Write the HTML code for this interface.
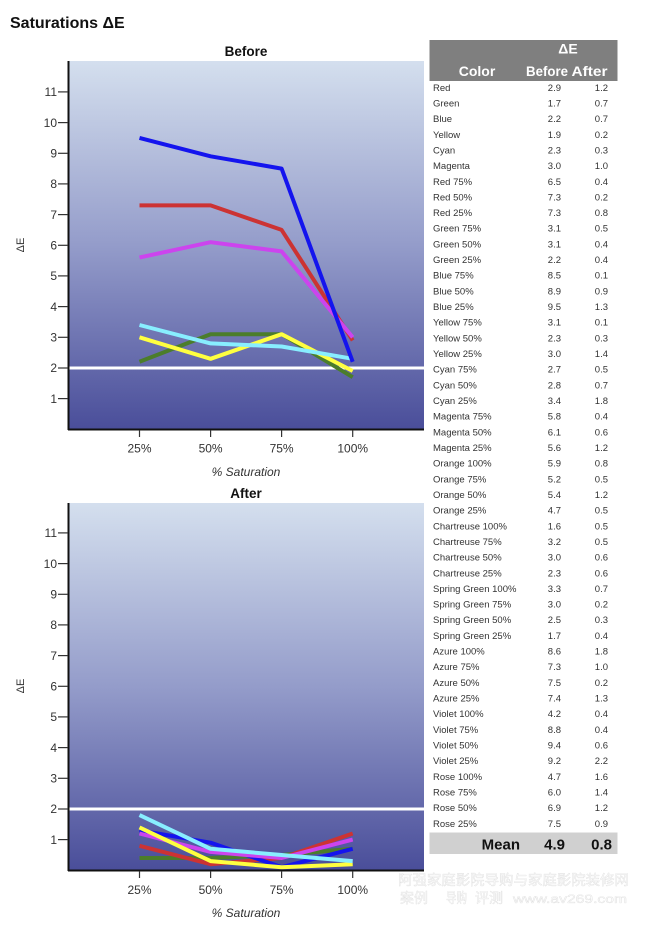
<!DOCTYPE html>
<html>
<head>
<meta charset="utf-8">
<style>
html,body{margin:0;padding:0;background:#fff;}
svg{display:block;}
text{font-family:"Liberation Sans","Noto Sans CJK SC",sans-serif;}
</style>
</head>
<body>
<svg width="648" height="927" viewBox="0 0 648 927" xmlns="http://www.w3.org/2000/svg">
<defs>
<linearGradient id="bg" x1="0" y1="0" x2="0" y2="1">
<stop offset="0" stop-color="#d4dfee"/>
<stop offset="0.5" stop-color="#949cca"/>
<stop offset="1" stop-color="#4a4e9a"/>
</linearGradient>
<clipPath id="c1"><rect x="69" y="61" width="355" height="368"/></clipPath>
<clipPath id="c2"><rect x="69" y="503" width="355" height="367"/></clipPath>
</defs>

<text x="10" y="28" font-size="16" font-weight="bold" fill="#111">Saturations ΔE</text>

<!-- BEFORE CHART -->
<text x="246" y="56" font-size="13.5" font-weight="bold" text-anchor="middle" fill="#111">Before</text>
<rect x="68" y="61" width="356" height="368" fill="url(#bg)"/>
<line x1="69" y1="368" x2="424" y2="368" stroke="#fff" stroke-width="3"/>
<g clip-path="url(#c1)" fill="none" stroke-width="4" stroke-linejoin="round">
<polyline stroke="#4b7d2b" points="139.5,361.8 210.6,334.2 281.6,334.2 352.7,377.2"/>
<polyline stroke="#ffff40" points="139.5,337.3 210.6,358.8 281.6,334.2 352.7,371.0"/>
<polyline stroke="#88eeff" points="139.5,325.0 210.6,343.4 281.6,346.5 352.7,358.8"/>
<polyline stroke="#cc3333" points="139.5,205.4 210.6,205.4 281.6,229.9 352.7,340.4"/>
<polyline stroke="#cc44ee" points="139.5,257.5 210.6,242.2 281.6,251.4 352.7,337.3"/>
<polyline stroke="#1414ee" points="139.5,137.9 210.6,156.3 281.6,168.6 352.7,361.8"/>
</g>
<line x1="68.5" y1="61" x2="68.5" y2="430" stroke="#111" stroke-width="2"/>
<line x1="68" y1="429.5" x2="424" y2="429.5" stroke="#111" stroke-width="2"/>
<g stroke="#333" stroke-width="1.2">
<line x1="58" y1="398.6" x2="68" y2="398.6"/>
<line x1="58" y1="368.0" x2="68" y2="368.0"/>
<line x1="58" y1="337.3" x2="68" y2="337.3"/>
<line x1="58" y1="306.6" x2="68" y2="306.6"/>
<line x1="58" y1="275.9" x2="68" y2="275.9"/>
<line x1="58" y1="245.3" x2="68" y2="245.3"/>
<line x1="58" y1="214.6" x2="68" y2="214.6"/>
<line x1="58" y1="183.9" x2="68" y2="183.9"/>
<line x1="58" y1="153.3" x2="68" y2="153.3"/>
<line x1="58" y1="122.6" x2="68" y2="122.6"/>
<line x1="58" y1="91.9" x2="68" y2="91.9"/>
<line x1="139.5" y1="430" x2="139.5" y2="437"/>
<line x1="210.6" y1="430" x2="210.6" y2="437"/>
<line x1="281.6" y1="430" x2="281.6" y2="437"/>
<line x1="352.7" y1="430" x2="352.7" y2="437"/>
</g>
<g font-size="12" fill="#333" text-anchor="end">
<text x="57" y="402.8">1</text>
<text x="57" y="372.2">2</text>
<text x="57" y="341.5">3</text>
<text x="57" y="310.8">4</text>
<text x="57" y="280.1">5</text>
<text x="57" y="249.5">6</text>
<text x="57" y="218.8">7</text>
<text x="57" y="188.1">8</text>
<text x="57" y="157.5">9</text>
<text x="57" y="126.8">10</text>
<text x="57" y="96.1">11</text>
</g>
<g font-size="12" fill="#333" text-anchor="middle">
<text x="139.5" y="452.5">25%</text>
<text x="210.6" y="452.5">50%</text>
<text x="281.6" y="452.5">75%</text>
<text x="352.7" y="452.5">100%</text>
<text x="246" y="476" font-style="italic">% Saturation</text>
</g>
<text transform="translate(24,245) rotate(-90)" font-size="11" fill="#333" text-anchor="middle">ΔE</text>

<!-- AFTER CHART -->
<text x="246" y="498" font-size="13.5" font-weight="bold" text-anchor="middle" fill="#111">After</text>
<rect x="68" y="503" width="356" height="367" fill="url(#bg)"/>
<line x1="69" y1="809" x2="424" y2="809" stroke="#fff" stroke-width="3"/>
<g clip-path="url(#c2)" fill="none" stroke-width="4" stroke-linejoin="round">
<polyline stroke="#4b7d2b" points="139.5,858.0 210.6,858.0 281.6,855.0 352.7,848.8"/>
<polyline stroke="#cc3333" points="139.5,845.8 210.6,864.2 281.6,858.0 352.7,833.5"/>
<polyline stroke="#1414ee" points="139.5,830.4 210.6,842.7 281.6,867.2 352.7,848.8"/>
<polyline stroke="#cc44ee" points="139.5,833.5 210.6,851.9 281.6,858.0 352.7,839.6"/>
<polyline stroke="#ffff40" points="139.5,827.4 210.6,861.1 281.6,867.2 352.7,864.2"/>
<polyline stroke="#88eeff" points="139.5,815.1 210.6,848.8 281.6,855.0 352.7,861.1"/>
</g>
<line x1="68.5" y1="503" x2="68.5" y2="871" stroke="#111" stroke-width="2"/>
<line x1="68" y1="870.5" x2="424" y2="870.5" stroke="#111" stroke-width="2"/>
<g stroke="#333" stroke-width="1.2">
<line x1="58" y1="839.6" x2="68" y2="839.6"/>
<line x1="58" y1="809.0" x2="68" y2="809.0"/>
<line x1="58" y1="778.3" x2="68" y2="778.3"/>
<line x1="58" y1="747.6" x2="68" y2="747.6"/>
<line x1="58" y1="716.9" x2="68" y2="716.9"/>
<line x1="58" y1="686.3" x2="68" y2="686.3"/>
<line x1="58" y1="655.6" x2="68" y2="655.6"/>
<line x1="58" y1="624.9" x2="68" y2="624.9"/>
<line x1="58" y1="594.3" x2="68" y2="594.3"/>
<line x1="58" y1="563.6" x2="68" y2="563.6"/>
<line x1="58" y1="532.9" x2="68" y2="532.9"/>
<line x1="139.5" y1="871" x2="139.5" y2="878"/>
<line x1="210.6" y1="871" x2="210.6" y2="878"/>
<line x1="281.6" y1="871" x2="281.6" y2="878"/>
<line x1="352.7" y1="871" x2="352.7" y2="878"/>
</g>
<g font-size="12" fill="#333" text-anchor="end">
<text x="57" y="843.8">1</text>
<text x="57" y="813.2">2</text>
<text x="57" y="782.5">3</text>
<text x="57" y="751.8">4</text>
<text x="57" y="721.1">5</text>
<text x="57" y="690.5">6</text>
<text x="57" y="659.8">7</text>
<text x="57" y="629.1">8</text>
<text x="57" y="598.5">9</text>
<text x="57" y="567.8">10</text>
<text x="57" y="537.1">11</text>
</g>
<g font-size="12" fill="#333" text-anchor="middle">
<text x="139.5" y="894">25%</text>
<text x="210.6" y="894">50%</text>
<text x="281.6" y="894">75%</text>
<text x="352.7" y="894">100%</text>
<text x="246" y="917" font-style="italic">% Saturation</text>
</g>
<text transform="translate(24,686) rotate(-90)" font-size="11" fill="#333" text-anchor="middle">ΔE</text>

<!-- TABLE -->
<rect x="429.5" y="40" width="188" height="41" fill="#7f7f7f"/>
<g fill="#fff" font-weight="bold" font-size="14" text-anchor="middle">
<text x="568" y="53.5">ΔE</text>
<text x="477" y="76">Color</text>
<text x="547" y="76" textLength="42" lengthAdjust="spacingAndGlyphs">Before</text>
<text x="589.5" y="76" textLength="36" lengthAdjust="spacingAndGlyphs">After</text>
</g>
<g font-size="9.5" fill="#333">
<text x="433" y="90.8">Red</text>
<text x="433" y="106.5">Green</text>
<text x="433" y="122.1">Blue</text>
<text x="433" y="137.8">Yellow</text>
<text x="433" y="153.4">Cyan</text>
<text x="433" y="169.1">Magenta</text>
<text x="433" y="184.8">Red 75%</text>
<text x="433" y="200.4">Red 50%</text>
<text x="433" y="216.1">Red 25%</text>
<text x="433" y="231.7">Green 75%</text>
<text x="433" y="247.4">Green 50%</text>
<text x="433" y="263.1">Green 25%</text>
<text x="433" y="278.7">Blue 75%</text>
<text x="433" y="294.4">Blue 50%</text>
<text x="433" y="310.0">Blue 25%</text>
<text x="433" y="325.7">Yellow 75%</text>
<text x="433" y="341.4">Yellow 50%</text>
<text x="433" y="357.0">Yellow 25%</text>
<text x="433" y="372.7">Cyan 75%</text>
<text x="433" y="388.3">Cyan 50%</text>
<text x="433" y="404.0">Cyan 25%</text>
<text x="433" y="419.7">Magenta 75%</text>
<text x="433" y="435.3">Magenta 50%</text>
<text x="433" y="451.0">Magenta 25%</text>
<text x="433" y="466.6">Orange 100%</text>
<text x="433" y="482.3">Orange 75%</text>
<text x="433" y="498.0">Orange 50%</text>
<text x="433" y="513.6">Orange 25%</text>
<text x="433" y="529.3">Chartreuse 100%</text>
<text x="433" y="544.9">Chartreuse 75%</text>
<text x="433" y="560.6">Chartreuse 50%</text>
<text x="433" y="576.3">Chartreuse 25%</text>
<text x="433" y="591.9">Spring Green 100%</text>
<text x="433" y="607.6">Spring Green 75%</text>
<text x="433" y="623.2">Spring Green 50%</text>
<text x="433" y="638.9">Spring Green 25%</text>
<text x="433" y="654.6">Azure 100%</text>
<text x="433" y="670.2">Azure 75%</text>
<text x="433" y="685.9">Azure 50%</text>
<text x="433" y="701.5">Azure 25%</text>
<text x="433" y="717.2">Violet 100%</text>
<text x="433" y="732.9">Violet 75%</text>
<text x="433" y="748.5">Violet 50%</text>
<text x="433" y="764.2">Violet 25%</text>
<text x="433" y="779.8">Rose 100%</text>
<text x="433" y="795.5">Rose 75%</text>
<text x="433" y="811.2">Rose 50%</text>
<text x="433" y="826.8">Rose 25%</text>
</g>
<g font-size="9.5" fill="#333" text-anchor="end">
<text x="561" y="90.8">2.9</text><text x="608" y="90.8">1.2</text>
<text x="561" y="106.5">1.7</text><text x="608" y="106.5">0.7</text>
<text x="561" y="122.1">2.2</text><text x="608" y="122.1">0.7</text>
<text x="561" y="137.8">1.9</text><text x="608" y="137.8">0.2</text>
<text x="561" y="153.4">2.3</text><text x="608" y="153.4">0.3</text>
<text x="561" y="169.1">3.0</text><text x="608" y="169.1">1.0</text>
<text x="561" y="184.8">6.5</text><text x="608" y="184.8">0.4</text>
<text x="561" y="200.4">7.3</text><text x="608" y="200.4">0.2</text>
<text x="561" y="216.1">7.3</text><text x="608" y="216.1">0.8</text>
<text x="561" y="231.7">3.1</text><text x="608" y="231.7">0.5</text>
<text x="561" y="247.4">3.1</text><text x="608" y="247.4">0.4</text>
<text x="561" y="263.1">2.2</text><text x="608" y="263.1">0.4</text>
<text x="561" y="278.7">8.5</text><text x="608" y="278.7">0.1</text>
<text x="561" y="294.4">8.9</text><text x="608" y="294.4">0.9</text>
<text x="561" y="310.0">9.5</text><text x="608" y="310.0">1.3</text>
<text x="561" y="325.7">3.1</text><text x="608" y="325.7">0.1</text>
<text x="561" y="341.4">2.3</text><text x="608" y="341.4">0.3</text>
<text x="561" y="357.0">3.0</text><text x="608" y="357.0">1.4</text>
<text x="561" y="372.7">2.7</text><text x="608" y="372.7">0.5</text>
<text x="561" y="388.3">2.8</text><text x="608" y="388.3">0.7</text>
<text x="561" y="404.0">3.4</text><text x="608" y="404.0">1.8</text>
<text x="561" y="419.7">5.8</text><text x="608" y="419.7">0.4</text>
<text x="561" y="435.3">6.1</text><text x="608" y="435.3">0.6</text>
<text x="561" y="451.0">5.6</text><text x="608" y="451.0">1.2</text>
<text x="561" y="466.6">5.9</text><text x="608" y="466.6">0.8</text>
<text x="561" y="482.3">5.2</text><text x="608" y="482.3">0.5</text>
<text x="561" y="498.0">5.4</text><text x="608" y="498.0">1.2</text>
<text x="561" y="513.6">4.7</text><text x="608" y="513.6">0.5</text>
<text x="561" y="529.3">1.6</text><text x="608" y="529.3">0.5</text>
<text x="561" y="544.9">3.2</text><text x="608" y="544.9">0.5</text>
<text x="561" y="560.6">3.0</text><text x="608" y="560.6">0.6</text>
<text x="561" y="576.3">2.3</text><text x="608" y="576.3">0.6</text>
<text x="561" y="591.9">3.3</text><text x="608" y="591.9">0.7</text>
<text x="561" y="607.6">3.0</text><text x="608" y="607.6">0.2</text>
<text x="561" y="623.2">2.5</text><text x="608" y="623.2">0.3</text>
<text x="561" y="638.9">1.7</text><text x="608" y="638.9">0.4</text>
<text x="561" y="654.6">8.6</text><text x="608" y="654.6">1.8</text>
<text x="561" y="670.2">7.3</text><text x="608" y="670.2">1.0</text>
<text x="561" y="685.9">7.5</text><text x="608" y="685.9">0.2</text>
<text x="561" y="701.5">7.4</text><text x="608" y="701.5">1.3</text>
<text x="561" y="717.2">4.2</text><text x="608" y="717.2">0.4</text>
<text x="561" y="732.9">8.8</text><text x="608" y="732.9">0.4</text>
<text x="561" y="748.5">9.4</text><text x="608" y="748.5">0.6</text>
<text x="561" y="764.2">9.2</text><text x="608" y="764.2">2.2</text>
<text x="561" y="779.8">4.7</text><text x="608" y="779.8">1.6</text>
<text x="561" y="795.5">6.0</text><text x="608" y="795.5">1.4</text>
<text x="561" y="811.2">6.9</text><text x="608" y="811.2">1.2</text>
<text x="561" y="826.8">7.5</text><text x="608" y="826.8">0.9</text>
</g>
<rect x="429.5" y="832.5" width="188" height="21.5" fill="#d0d0d0"/>
<g font-size="15" font-weight="bold" fill="#111" text-anchor="end">
<text x="520" y="849.5">Mean</text>
<text x="565" y="849.5">4.9</text>
<text x="612" y="849.5">0.8</text>
</g>

<!-- watermark -->
<g font-family="'Noto Sans CJK SC','WenQuanYi Zen Hei',sans-serif" fill="#fbfbfb" stroke="#dcdcdc" stroke-width="0.35" font-size="14">
<text x="398" y="885" textLength="231" lengthAdjust="spacingAndGlyphs">阿强家庭影院导购与家庭影院装修网</text>
<text x="400" y="903" textLength="28" lengthAdjust="spacingAndGlyphs">案例</text>
<text x="446" y="903" textLength="21" lengthAdjust="spacingAndGlyphs">导购</text>
<text x="475" y="903" textLength="28" lengthAdjust="spacingAndGlyphs">评测</text>
<text x="513" y="903" textLength="114" lengthAdjust="spacingAndGlyphs" font-family="'Liberation Mono',monospace" font-size="12">www.av269.com</text>
</g>
</svg>
</body>
</html>
